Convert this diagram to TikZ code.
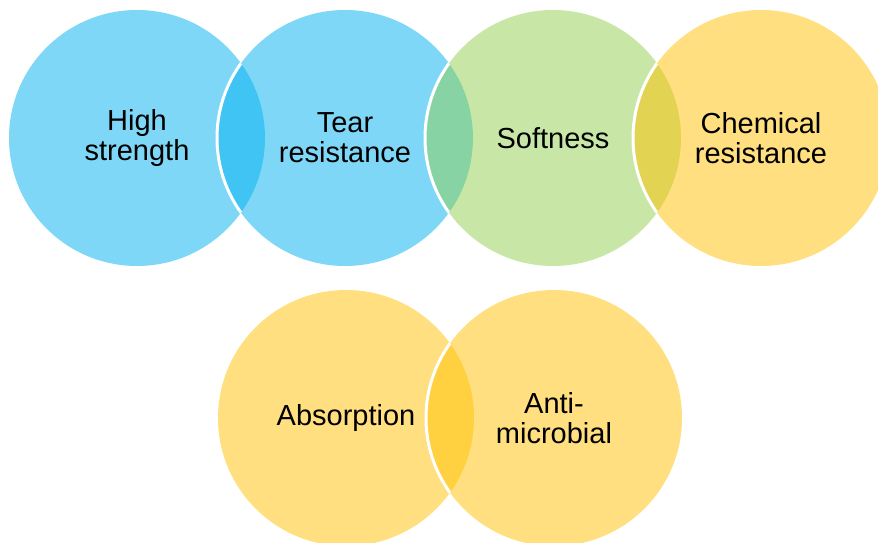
\documentclass[tikz,border=0pt]{standalone}
\usepackage{fontspec}
\setmainfont{Liberation Sans}
\definecolor{skyblue}{HTML}{00B0F0}
\definecolor{leafgreen}{HTML}{92D050}
\definecolor{amber}{HTML}{FFC000}

\begin{document}
\begin{tikzpicture}[x=1pt, y=1pt,
		bubble/.style={circle, minimum size=256pt, inner sep=0pt, fill opacity=0.5, text opacity=1, align=center, font=\fontsize{29}{30}\selectfont},
		rim/.style={draw=white, line width=3pt}
		]
		\useasboundingbox (0,0) rectangle (878,543);
		
		% ==========================================
		% 1. THE BUBBLES
		% ==========================================
		% Data format: name / x / y / fill colour / label
		\foreach \name/\x/\y/\clr/\txt in {
			c1/137/405/skyblue/{High\\strength},
			c2/345/405/skyblue/{Tear\\resistance},
			c3/553/405/leafgreen/{Softness},
			c4/761/405/amber/{Chemical\\resistance},
			c5/346/125/amber/{Absorption},
			c6/554/125/amber/{Anti-\\microbial}%
		} {
			\node[bubble, fill=\clr] (\name) at (\x,\y) {\txt};
		}
		
		% ==========================================
		% 2. WHITE RIMS WHERE BUBBLES OVERLAP
		% ==========================================
		\foreach \a/\b in {c1/c2, c2/c3, c3/c4, c5/c6} {
			\begin{scope}
				\clip (\a.center) circle (128);
				\draw[rim] (\b.center) circle (128);
			\end{scope}
		}
		
	\end{tikzpicture}
\end{document}
